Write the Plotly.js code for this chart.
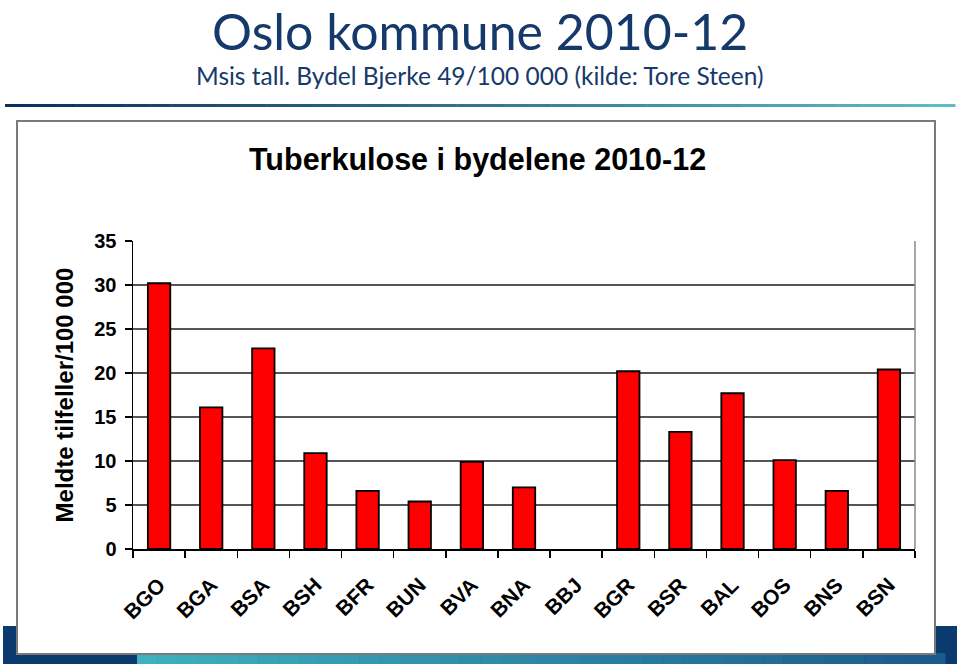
<!DOCTYPE html>
<html>
<head>
<meta charset="utf-8">
<script src="https://cdn.plot.ly/plotly-3.0.1.min.js"></script>
<style>html,body{margin:0;padding:0;background:#fff;}#chart{width:960px;height:666px;}</style>
</head>
<body>
<div id="chart"></div>
<script>
const categories = ["BGO","BGA","BSA","BSH","BFR","BUN","BVA","BNA","BBJ","BGR","BSR","BAL","BOS","BNS","BSN"];
const values = [30.2, 16.1, 22.8, 10.9, 6.6, 5.4, 9.9, 7.0, null, 20.2, 13.3, 17.7, 10.1, 6.6, 20.4];
const yTicks = [0,5,10,15,20,25,30,35];

const W = 960, H = 666;
const M = {l:133, r:45, t:241, b:117};
const PW = W - M.l - M.r, PH = H - M.t - M.b;
const px = x => (x - M.l) / PW;
const py = y => (H - M.b - y) / PH;

function lerpColor(a, b, t) {
  const pa = a.match(/\w\w/g).map(h => parseInt(h,16));
  const pb = b.match(/\w\w/g).map(h => parseInt(h,16));
  return 'rgb(' + pa.map((v,i) => Math.round(v + (pb[i]-v)*t)).join(',') + ')';
}

const shapes = [];
const nSeg = 40;
for (let i = 0; i < nSeg; i++) {
  const x0 = 5 + (950/nSeg)*i, x1 = 5 + (950/nSeg)*(i+1) + 0.5;
  shapes.push({type:'rect', xref:'paper', yref:'paper', x0:px(x0), x1:px(x1), y0:py(107), y1:py(104),
    fillcolor: lerpColor('0b2f5e','5cbcc4', i/(nSeg-1)), line:{width:0}, layer:'below'});
}
shapes.push({type:'rect', xref:'paper', yref:'paper', x0:px(3), x1:px(957), y0:py(664), y1:py(626),
  fillcolor:'#0b3a6e', line:{width:0}, layer:'below'});
for (let i = 0; i < nSeg; i++) {
  const x0 = 137 + (808/nSeg)*i, x1 = 137 + (808/nSeg)*(i+1) + 0.5;
  shapes.push({type:'rect', xref:'paper', yref:'paper', x0:px(x0), x1:px(x1), y0:py(664), y1:py(653),
    fillcolor: lerpColor('3fb0bd','1b5a8c', i/(nSeg-1)), line:{width:0}, layer:'below'});
}
shapes.push({type:'rect', xref:'paper', yref:'paper', x0:px(17), x1:px(935), y0:py(654), y1:py(121),
  fillcolor:'#ffffff', line:{color:'#7a7a7a', width:2}, layer:'below'});
shapes.push({type:'line', xref:'paper', yref:'paper', x0:1, x1:1, y0:0, y1:1,
  line:{color:'#8a8a8a', width:1.5}});

const annotations = [
  {text:'Oslo kommune 2010-12', xref:'paper', yref:'paper', x:px(480), y:py(0), xanchor:'center', yanchor:'top',
   showarrow:false, borderpad:0, font:{family:'Lato, "Open Sans", sans-serif', size:50, color:'#16396b'}},
  {text:'Msis tall. Bydel Bjerke 49/100 000 (kilde: Tore Steen)', xref:'paper', yref:'paper', x:px(480), y:py(75),
   xanchor:'center', yanchor:'middle', showarrow:false, borderpad:0,
   font:{family:'Lato, "Open Sans", sans-serif', size:24.5, color:'#16396b'}},
  {text:'<b>Tuberkulose i bydelene 2010-12</b>', xref:'paper', yref:'paper', x:px(477), y:py(159),
   xanchor:'center', yanchor:'middle', showarrow:false,
   font:{family:'Arial, "Liberation Sans", sans-serif', size:30.5, color:'#000'}}
];

const trace = {
  type:'bar', x:categories, y:values,
  marker:{color:'#ff0000', line:{color:'#000000', width:1.8}},
  width:0.43, hoverinfo:'x+y'
};

const layout = {
  width:W, height:H, margin:M,
  paper_bgcolor:'#ffffff', plot_bgcolor:'rgba(0,0,0,0)',
  showlegend:false,
  font:{family:'Arial, "Liberation Sans", sans-serif', color:'#000'},
  xaxis:{type:'category', tickangle:-45, ticks:'outside', tickson:'boundaries', ticklen:7, tickwidth:1.5,
    tickcolor:'#000', showline:true, linecolor:'#000', linewidth:1.5, showgrid:false, ticklabelstandoff:14,
    tickfont:{family:'Arial, "Liberation Sans", sans-serif', size:21, color:'#000', weight:'bold'},
    range:[-0.5, categories.length-0.5]},
  yaxis:{range:[0,35], tickvals:yTicks, ticktext:yTicks.map(String), ticks:'outside', ticklen:7, tickwidth:1.5,
    tickcolor:'#000', showline:true, linecolor:'#000', linewidth:1.5, ticklabelstandoff:4,
    showgrid:true, gridcolor:'#555555', gridwidth:1.5, zeroline:false,
    tickfont:{family:'Arial, "Liberation Sans", sans-serif', size:20, color:'#000', weight:'bold'},
    title:{text:'<b>Meldte tilfeller/100 000</b>', standoff:14,
      font:{family:'Arial, "Liberation Sans", sans-serif', size:24, color:'#000'}}},
  shapes:shapes, annotations:annotations
};

Plotly.newPlot('chart', [trace], layout, {displayModeBar:false, staticPlot:true});
</script>
</body>
</html>
